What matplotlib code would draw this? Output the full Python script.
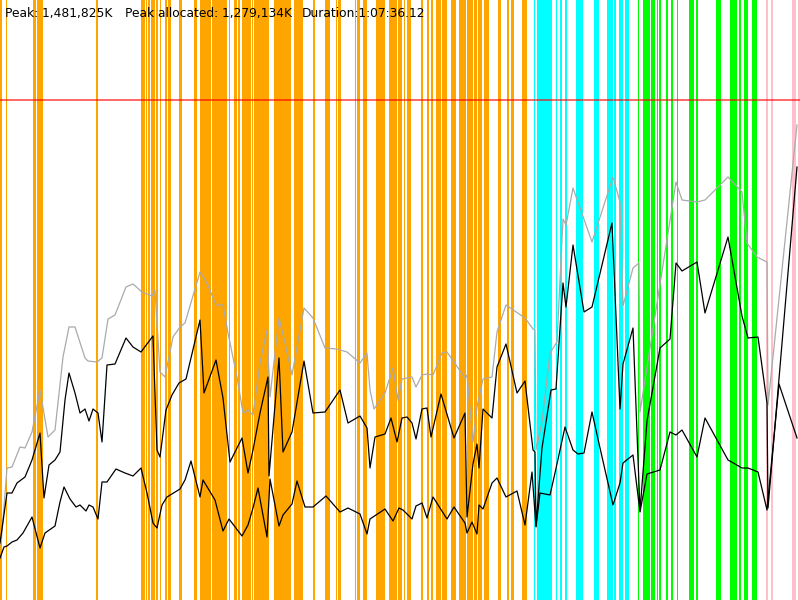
import matplotlib
matplotlib.use("Agg")
import matplotlib.pyplot as plt

# ---- data (time units 0..800, memory units 0..600) ----
gray_t = [1, 7, 12, 20, 25, 32, 40, 48, 55, 63, 69, 75, 85, 88, 97, 102, 108, 115, 126, 133,
          142, 152, 155, 160, 165, 173, 180, 185, 200, 207, 216, 223, 228, 237, 243, 248, 253,
          260, 267, 270, 279, 285, 292, 304, 313, 325, 337, 347, 360, 367, 370, 374, 385, 393,
          398, 402, 412, 416, 422, 427, 433, 442, 447, 465, 467, 473, 477, 483, 492, 497, 506,
          525, 533, 535, 536, 542, 550, 557, 563, 566, 573, 592, 613, 620, 623, 633, 639, 640,
          676, 682, 697, 705, 728, 742, 747, 757, 767, 768, 797]
gray_v = [55, 132, 133, 153, 152, 168, 210, 163, 170, 243, 273, 273, 242, 239, 238, 242, 281,
          285, 313, 316, 308, 304, 310, 228, 223, 263, 273, 277, 328, 317, 295, 295, 267, 223,
          187, 190, 185, 237, 270, 203, 282, 257, 225, 292, 282, 252, 251, 248, 237, 247, 210,
          191, 207, 232, 200, 221, 223, 213, 225, 226, 225, 247, 248, 222, 225, 158, 193, 221,
          223, 268, 295, 282, 271, 270, 150, 178, 247, 258, 381, 375, 412, 358, 423, 398, 294,
          332, 337, 188, 418, 400, 398, 400, 423, 408, 357, 343, 338, 195, 475]

top_t = [0, 7, 12, 17, 25, 32, 40, 44, 49, 55, 60, 65, 69, 75, 80, 85, 89, 93, 98, 102, 107,
         115, 126, 133, 141, 153, 157, 160, 166, 172, 179, 186, 200, 204, 216, 223, 230, 242,
         248, 253, 260, 268, 269, 279, 283, 292, 304, 313, 325, 340, 348, 360, 367, 370, 375,
         385, 391, 397, 402, 407, 412, 416, 422, 427, 431, 441, 454, 465, 467, 473, 477, 479,
         483, 492, 497, 506, 517, 525, 533, 535, 536, 542, 551, 556, 563, 566, 573, 584, 592,
         612, 620, 623, 633, 640, 647, 660, 670, 676, 682, 697, 705, 728, 742, 748, 758, 767,
         768, 797]
top_v = [57, 107, 107, 117, 123, 140, 167, 102, 135, 140, 148, 200, 227, 207, 187, 191, 179,
         191, 187, 158, 235, 236, 262, 253, 248, 264, 150, 143, 190, 205, 217, 221, 280, 207,
         240, 202, 138, 162, 127, 150, 187, 223, 124, 242, 148, 168, 239, 187, 188, 210, 177,
         184, 172, 132, 163, 166, 182, 158, 182, 183, 177, 161, 191, 192, 163, 206, 162, 187,
         83, 136, 156, 132, 191, 182, 233, 256, 207, 219, 150, 148, 74, 152, 210, 211, 317,
         293, 355, 288, 293, 377, 191, 236, 272, 89, 179, 252, 261, 337, 329, 338, 287, 363,
         284, 262, 263, 197, 92, 433]

bot_t = [0, 4, 7, 12, 17, 23, 32, 40, 45, 55, 60, 64, 70, 76, 80, 86, 89, 93, 98, 102, 107,
         116, 125, 133, 141, 147, 153, 157, 162, 167, 180, 185, 191, 200, 203, 215, 223, 229,
         242, 248, 253, 258, 267, 270, 279, 283, 292, 297, 305, 313, 326, 340, 348, 360, 367,
         370, 373, 385, 393, 399, 403, 412, 416, 422, 427, 433, 447, 454, 465, 467, 472, 477,
         479, 483, 492, 497, 506, 517, 525, 532, 536, 540, 550, 555, 565, 573, 578, 584, 592,
         600, 613, 620, 623, 633, 640, 647, 660, 670, 676, 682, 697, 705, 728, 742, 748, 758,
         767, 779, 797]
bot_v = [42, 53, 54, 58, 60, 67, 83, 52, 67, 74, 98, 113, 101, 93, 95, 89, 95, 93, 81, 118,
         118, 131, 127, 124, 132, 107, 77, 72, 95, 103, 111, 120, 139, 103, 120, 100, 69, 81,
         64, 75, 92, 112, 63, 121, 74, 85, 96, 119, 93, 93, 104, 88, 92, 86, 66, 81, 83, 91,
         79, 92, 90, 81, 94, 97, 82, 103, 81, 93, 77, 67, 78, 66, 95, 91, 117, 122, 103, 109,
         75, 128, 73, 107, 105, 127, 173, 150, 146, 147, 188, 152, 95, 117, 137, 145, 88, 126,
         130, 168, 165, 170, 143, 182, 140, 132, 132, 128, 90, 216, 162]

limit_value = 500

# event intervals (start, end) by type
orange_events = [(0, 1.7), (6, 7.3), (32.5, 36), (37, 42.5), (96.3, 97.5), (141, 145),
                 (146.2, 147), (148.3, 150), (151, 155), (156, 158.3), (159.5, 160.5),
                 (165, 166.7), (167.7, 170.5), (179, 181.7), (193.5, 196.5),
                 (199.5, 204.7), (205.3, 211.3), (212, 216.7), (217.3, 226.7), (228.5, 229.5),
                 (234.3, 236.7), (237.7, 240), (241.7, 250.7),
                 (252.3, 253.3), (254.3, 269.3), (274, 290.7), (294, 302.7), (313.3, 315),
                 (325, 330), (336, 337.3), (338.3, 340.7), (354.5, 355.5), (356.7, 360),
                 (362.7, 367.3), (376, 385), (389.3, 396.7), (398.3, 401.7), (403.5, 404.5),
                 (407.3, 411), (421, 422.5), (427.3, 429), (431, 432.7), (436, 440.7),
                 (441.7, 446.7), (450.7, 456), (459, 466), (466.7, 472.7), (474, 477.3),
                 (478.3, 481.7), (484, 489), (498, 500.5), (507.3, 509.3), (511, 514),
                 (521.7, 526.7)]
cyan_events = [(534, 535), (537.3, 551.7), (556, 557.3), (560, 561.7), (565.3, 567.3),
               (575.7, 582.7), (594.3, 599), (606.7, 613.3), (614, 615.7), (619, 623.3),
               (625, 629)]
green_events = [(638, 639), (642.7, 650), (650.7, 655), (656.7, 658.3), (659.3, 661),
                (666, 667.7), (671, 672.7), (676.7, 678.3), (689.3, 694.3), (695.7, 698.3),
                (715.7, 720.7), (730, 732.7), (733.3, 736.7), (739.3, 740.7), (744, 748.3),
                (751.7, 756.7)]
pink_events = [(765.7, 767.7), (771, 773.3), (791.7, 795.7), (798.3, 800)]

labels = ["Peak: 1,481,825K", "Peak allocated: 1,279,134K", "Duration:1:07:36.12"]

# ---- drawing ----
fig = plt.figure(figsize=(8, 6), dpi=100)
ax = fig.add_axes([0, 0, 1, 1])
ax.set_xlim(0, 800)
ax.set_ylim(0, 600)
ax.axis("off")

for events, col in [(orange_events, "#FFA500"), (cyan_events, "#00FFFF"),
                    (green_events, "#00FF00"), (pink_events, "#FFC0CB")]:
    for s, e in events:
        ax.axvspan(s, e, color=col, lw=0, zorder=1)

ax.plot(gray_t, gray_v, color="#aaaaaa", lw=0.9, zorder=2)
ax.plot(top_t, top_v, color="black", lw=0.9, zorder=3)
ax.plot(bot_t, bot_v, color="black", lw=0.9, zorder=3)

ax.axhline(limit_value, color="red", lw=1.4, alpha=0.6, zorder=4)

for xpos, s in zip([5, 125, 301.7], labels):
    ax.text(xpos / 800, 1 - 16.7 / 600, s, transform=ax.transAxes, fontsize=8.8,
            family="DejaVu Sans", va="baseline", ha="left", color="black", zorder=5)

fig.savefig("out.png", dpi=100)
